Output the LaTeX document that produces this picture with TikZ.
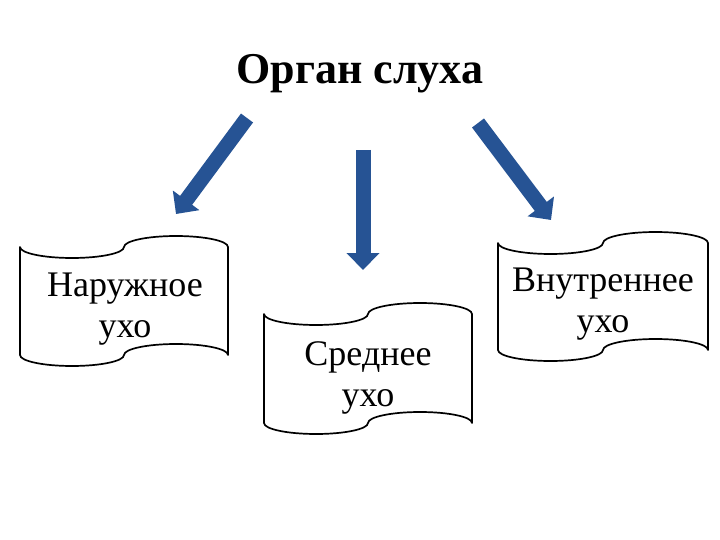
\documentclass[tikz,border=0pt]{standalone}
\usepackage{fontspec}
\setmainfont{Liberation Serif}
\usetikzlibrary{arrows.meta}
\definecolor{arrowblue}{RGB}{38,83,148}
\tikzset{
  bigarrow/.style={draw=arrowblue, line width=15pt, -{Triangle[width=32pt,length=17pt]}},
  scrolltext/.style={font=\fontsize{36}{41}\selectfont, align=center, inner sep=0pt},
  scrollline/.style={draw=black, line width=1.7pt, fill=white, line join=round},
  titletext/.style={font=\fontsize{44}{50}\selectfont\bfseries, inner sep=0pt, anchor=base},
}
\newcommand\punchtape[5]{%
  \pgfmathsetmacro\qw{(#2-#1)/4}%
  \draw[scrollline] (#1,#3)
    arc[start angle=180,end angle=360,x radius=\qw pt,y radius=#5pt]
    arc[start angle=180,end angle=0,x radius=\qw pt,y radius=#5pt]
    -- (#2,#4)
    arc[start angle=0,end angle=180,x radius=\qw pt,y radius=#5pt]
    arc[start angle=0,end angle=-180,x radius=\qw pt,y radius=#5pt]
    -- cycle;
}
\begin{document}
\begin{tikzpicture}[x=1pt,y=-1pt]
\useasboundingbox[fill=white] (0,0) rectangle (720,540);
\node[titletext] (title) at (360,84) {Орган слуха};

\punchtape{20}{228}{247}{355}{11}
\punchtape{264}{472}{314}{423}{11}
\punchtape{498}{708}{243}{350}{11}

\node[scrolltext] (outer) at (125,309) {Наружное\\ухо};
\node[scrolltext] (middle) at (368,378) {Среднее\\ухо};
\node[scrolltext] (inner) at (603,304) {Внутреннее\\ухо};

\coordinate (lt) at (247,118);
\coordinate (lh) at (176,214);
\coordinate (mt) at (363,150);
\coordinate (mh) at (363,270);
\coordinate (rt) at (478,123);
\coordinate (rh) at (551,220);
\draw[bigarrow] (lt) -- (lh);
\draw[bigarrow] (mt) -- (mh);
\draw[bigarrow] (rt) -- (rh);
\end{tikzpicture}
\end{document}
